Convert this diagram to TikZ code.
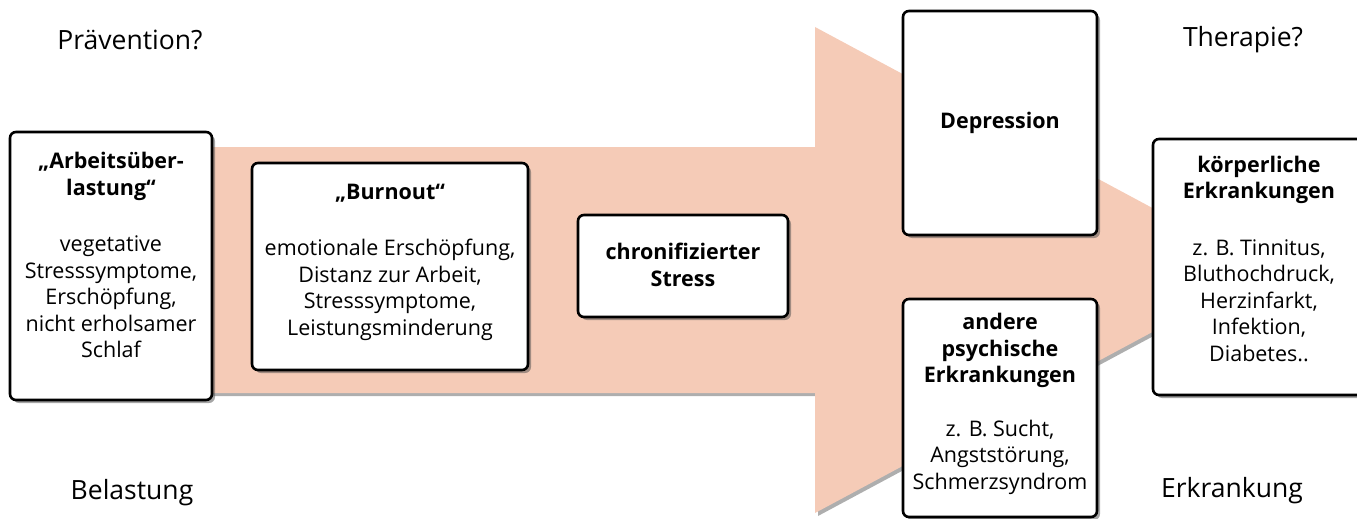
\documentclass[tikz,border=0pt]{standalone}
\usepackage{fontspec}
\setmainfont{Open Sans}
\usetikzlibrary{shadows}
\definecolor{peach}{RGB}{245,203,183}
\begin{document}
\begin{tikzpicture}[x=1pt,y=-1pt,
  card/.style={draw=black, line width=2.6pt, fill=white, rounded corners=6pt, inner sep=0pt,
    drop shadow={shadow xshift=3pt, shadow yshift=-3pt, opacity=0.5, fill=black!70}},
  txt/.style={align=center, font=\fontsize{21.5}{26.5}\selectfont, inner sep=0pt},
  lbl/.style={font=\fontsize{26.5}{30}\selectfont, inner sep=0pt}]
\useasboundingbox (0,0) rectangle (1357,519);
% big arrow
\path[fill=peach, drop shadow={shadow xshift=3pt, shadow yshift=-3pt, opacity=0.45, fill=black!70}]
  (150,147) -- (815,147) -- (815,27) -- (1268,270) -- (815,513) -- (815,393) -- (150,393) -- cycle;
% boxes
\node[card, minimum width=202pt, minimum height=268pt] (b1) at (111,266) {};
\node[card, minimum width=276pt, minimum height=207pt] (b2) at (390,266.5) {};
\node[card, minimum width=210pt, minimum height=102pt] (b3) at (683,266) {};
\node[card, minimum width=194pt, minimum height=224pt] (b4) at (1000,123) {};
\node[card, minimum width=194pt, minimum height=218pt] (b5) at (1000,408) {};
\node[card, minimum width=212pt, minimum height=256pt] (b6) at (1259,267) {};
% texts
\node[txt] (t1) at (111,255) {\textbf{„Arbeitsüber-}\\\textbf{lastung“}\\[30pt]vegetative\\Stresssymptome,\\Erschöpfung,\\nicht erholsamer\\Schlaf};
\node[txt] (t2) at (390,262) {\textbf{„Burnout“}\\[30pt]emotionale Erschöpfung,\\Distanz zur Arbeit,\\Stresssymptome,\\Leistungsminderung};
\node[txt] (t3) at (683,265) {\textbf{chronifizierter}\\\textbf{Stress}};
\node[txt] (t4) at (1000,123) {\textbf{Depression}};
\node[txt] (t5) at (1000,404) {\textbf{andere}\\\textbf{psychische}\\\textbf{Erkrankungen}\\[27pt]z. B. Sucht,\\Angststörung,\\Schmerzsyndrom};
\node[txt] (t6) at (1259,258.5) {\textbf{körperliche}\\\textbf{Erkrankungen}\\[30pt]z. B. Tinnitus,\\Bluthochdruck,\\Herzinfarkt,\\Infektion,\\Diabetes..};
% corner labels
\node[lbl] (l1) at (130,40) {Prävention?};
\node[lbl] (l2) at (1243,40) {Therapie?};
\node[lbl] (l3) at (132,493) {Belastung};
\node[lbl] (l4) at (1232,491) {Erkrankung};
\end{tikzpicture}
\end{document}
